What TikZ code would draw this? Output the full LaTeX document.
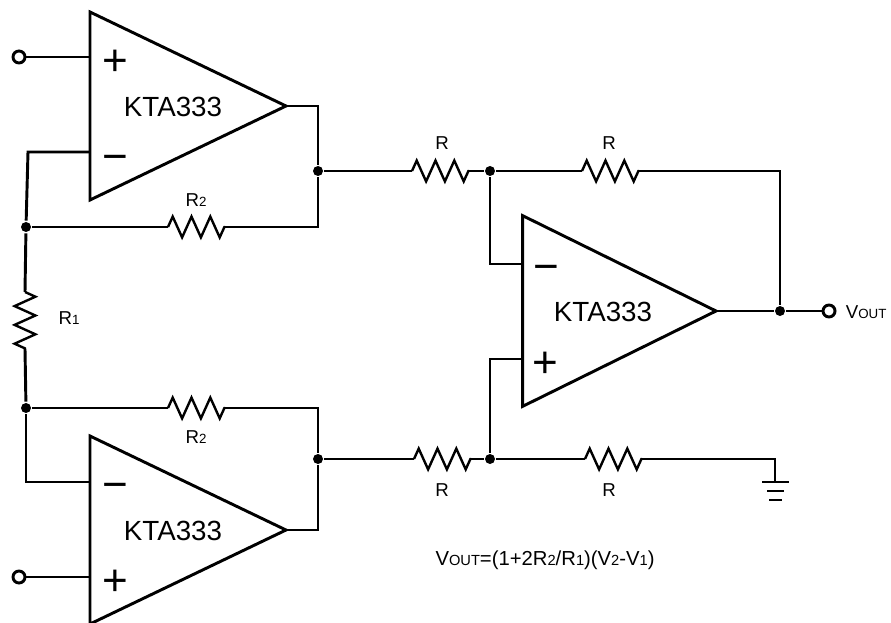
\documentclass[tikz,border=0pt]{standalone}
\usepackage{fontspec}
\setmainfont{Liberation Sans}
\usepackage{tikz}
\usetikzlibrary{positioning}
\usetikzlibrary{shapes,shapes.geometric,decorations.pathmorphing}
\newcommand{\lsmall}[1]{{\fontsize{10}{10}\selectfont #1}}
\newcommand{\fsmall}[1]{{\fontsize{11}{11}\selectfont #1}}
\tikzstyle{opamp} = [isosceles triangle, draw, isosceles triangle stretches, minimum width=141pt, minimum height=147pt, inner sep=0pt, outer sep=0pt, anchor=apex]
\tikzstyle{chip} = [draw=none, fill=none, text centered, font=\fontsize{20.8}{20.8}\selectfont]
\tikzstyle{sign} = [draw=none, fill=none, text centered, font=\fontsize{33}{33}\selectfont]
\tikzstyle{lbl} = [draw=none, fill=none, text centered, font=\fontsize{14}{14}\selectfont]
\tikzstyle{formula} = [draw=none, fill=none, text centered, font=\fontsize{15.2}{15.2}\selectfont]
\tikzstyle{dot} = [circle, fill, inner sep=0pt, minimum size=7.5pt]
\tikzstyle{pin} = [circle, draw, fill=white, inner sep=0pt, minimum size=9pt]
\tikzstyle{wire} = [draw]
\tikzstyle{res} = [draw, line width=1.8pt, decorate, decoration={zigzag, amplitude=7.8pt, segment length=14.1pt}]
\begin{document}
\begin{tikzpicture}[x=0.75pt, y=-0.75pt, line width=2.2pt, line join=miter]
	\useasboundingbox (0,0) rectangle (891,623);

	% amplifiers
	\node [opamp] (U1) at (286,106) {};
	\node [opamp] (U2) at (286,530) {};
	\node [opamp, minimum width=143pt, minimum height=145pt] (U3) at (716,311) {};
	\node [chip] (T1) at (173,107) {KTA333};
	\node [chip, below of=T1, node distance=318pt] (T2) {KTA333};
	\node [chip] (T3) at (603,312) {KTA333};

	% input signs
	\node [sign] (P1) at (115,63) {+};
	\node [sign] (M1) at (115,163) {\textminus};
	\node [sign] (M2) at (115,491) {\textminus};
	\node [sign] (P2) at (115,583) {+};
	\node [sign] (M3) at (546,273) {\textminus};
	\node [sign] (P3) at (545,365) {+};

	% amplifier pins
	\coordinate (A1) at (89,57);
	\coordinate (B1) at (89,152);
	\coordinate (B2) at (89,482);
	\coordinate (A2) at (89,577);
	\coordinate (B3) at (522,264);
	\coordinate (A3) at (522,359);

	% terminals and junctions
	\node [pin] (IN1) at (19,57) {};
	\node [pin] (IN2) at (19,577) {};
	\node [pin] (OUT) at (829,311) {};
	\node [dot] (J1) at (26,227) {};
	\node [dot] (J2) at (26,408) {};
	\node [dot] (J3) at (318,171) {};
	\node [dot] (J4) at (318,459) {};
	\node [dot] (J5) at (490,171) {};
	\node [dot] (J6) at (490,459) {};
	\node [dot] (J7) at (780,311) {};

	% resistor ends
	\coordinate (Ra) at (25,292);
	\coordinate (Rb) at (25,349);
	\coordinate (Sa) at (168,227);
	\coordinate (Sb) at (225,227);
	\coordinate (Ta) at (168,408);
	\coordinate (Tb) at (225,408);
	\coordinate (Ua) at (412,171);
	\coordinate (Ub) at (469,171);
	\coordinate (Va) at (582,171);
	\coordinate (Vb) at (639,171);
	\coordinate (Wa) at (414,459);
	\coordinate (Wb) at (471,459);
	\coordinate (Xa) at (585,459);
	\coordinate (Xb) at (642,459);
	\coordinate (GND) at (775,482);

	% resistors
	\path [res] (Ra) -- (Rb);
	\path [res] (Sa) -- (Sb);
	\path [res] (Ta) -- (Tb);
	\path [res] (Ua) -- (Ub);
	\path [res] (Va) -- (Vb);
	\path [res] (Wa) -- (Wb);
	\path [res] (Xa) -- (Xb);

	% draw edges
	\path [wire] (IN1) -- (A1);
	\path [wire] (IN2) -- (A2);
	\path [wire] (U1.apex) -- (318,106) -- (J3);
	\path [wire] (J3) -- (318,227) -- (Sb);
	\path [wire] (Sa) -- (J1);
	\path [wire] (B1) -- (28,152) -- (J1);
	\path [wire] (J1) -- (Ra);
	\path [wire] (Rb) -- (J2);
	\path [wire] (J2) -- (Ta);
	\path [wire] (Tb) -- (318,408) -- (J4);
	\path [wire] (J4) -- (318,530) -- (U2.apex);
	\path [wire] (J2) -- (26,482) -- (B2);
	\path [wire] (J3) -- (Ua);
	\path [wire] (Ub) -- (J5);
	\path [wire] (J5) -- (Va);
	\path [wire] (Vb) -- (780,171) -- (J7);
	\path [wire] (J5) -- (490,264) -- (B3);
	\path [wire] (J6) -- (490,359) -- (A3);
	\path [wire] (J4) -- (Wa);
	\path [wire] (Wb) -- (J6);
	\path [wire] (J6) -- (Xa);
	\path [wire] (Xb) -- (775,459) -- (GND);
	\path [wire] (U3.apex) -- (J7);
	\path [wire] (J7) -- (OUT);

	% ground
	\draw (762,482) -- (789,482);
	\draw (767,491) -- (784,491);
	\draw (769,500) -- (782,500);

	% labels
	\node [lbl] (L1) at (69,318) {R\lsmall{1}};
	\node [lbl] (L2) at (196,200) {R\lsmall{2}};
	\node [lbl] (L3) at (196,437) {R\lsmall{2}};
	\node [lbl] (L4) at (442,143) {R};
	\node [lbl] (L5) at (609,143) {R};
	\node [lbl] (L6) at (442,490) {R};
	\node [lbl] (L7) at (609,490) {R};
	\node [lbl, right] (L8) at (840,312) {V\lsmall{OUT}};
	\node [formula] (L9) at (545,560) {V\fsmall{OUT}=(1+2R\fsmall{2}/R\fsmall{1})(V\fsmall{2}-V\fsmall{1})};
\end{tikzpicture}
\end{document}
